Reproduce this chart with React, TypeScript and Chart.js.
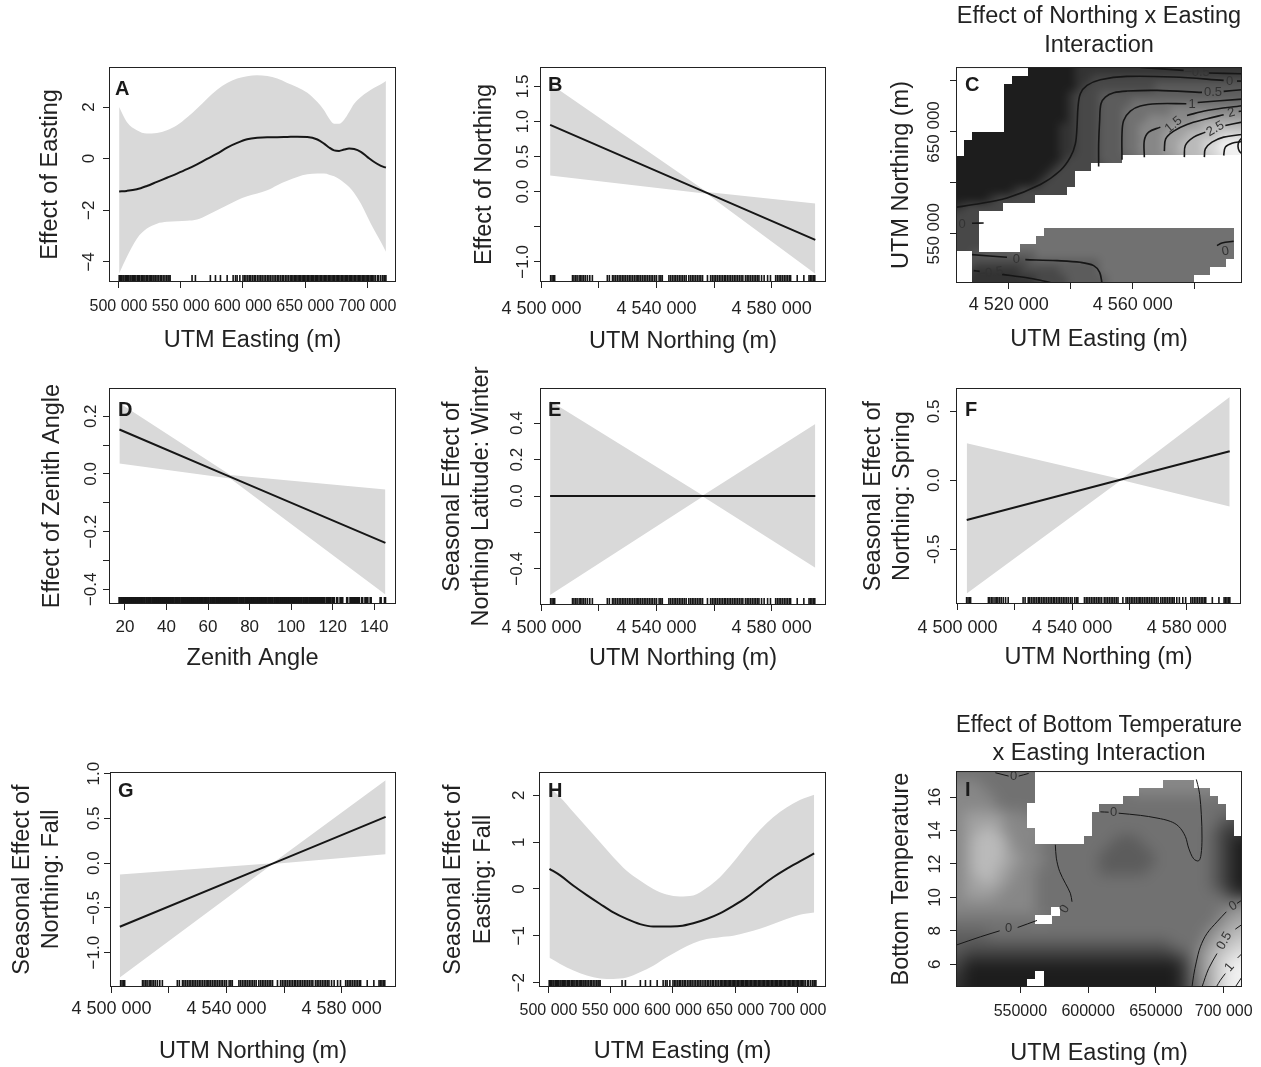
import React, { useEffect, useRef } from "react";
import { Chart, registerables } from "chart.js";

Chart.register(...registerables);

const FONT = "'Liberation Sans', Arial, Helvetica, sans-serif";
const INK = "#222222";
const LINE = "#161616";
const BAND = "#d9d9d9";
const HEAT_PALETTE = ["#1d1d1d", "#333333", "#484848", "#5c5c5c", "#717171", "#878787", "#a0a0a0", "#bababa", "#d6d6d6", "#f0f0f0"];

// ---------------- tick values / labels ----------------
const EASTING_TICKS = [500000, 550000, 600000, 650000, 700000];
const EASTING_TICK_LABELS = ["500 000", "550 000", "600 000", "650 000", "700 000"];
const NORTHING_TICKS = [4500000, 4520000, 4540000, 4560000, 4580000];
const NORTHING_TICK_LABELS = ["4 500 000", "", "4 540 000", "", "4 580 000"];
const ZENITH_TICKS = [20, 40, 60, 80, 100, 120, 140];
const ZENITH_TICK_LABELS = ["20", "40", "60", "80", "100", "120", "140"];
const C_X_TICKS = [4520000, 4540000, 4560000, 4580000];
const C_X_TICK_LABELS = ["4 520 000", "", "4 560 000", ""];
const C_Y_TICKS = [550000, 600000, 650000, 700000];
const C_Y_TICK_LABELS = ["550 000", "", "650 000", ""];
const I_X_TICKS = [550000, 600000, 650000, 700000];
const I_X_TICK_LABELS = ["550000", "600000", "650000", "700 000"];
const I_Y_TICKS = [6, 8, 10, 12, 14, 16];
const I_Y_TICK_LABELS = ["6", "8", "10", "12", "14", "16"];
const A_Y_TICKS = [-4, -2, 0, 2];
const A_Y_TICK_LABELS = ["\u22124", "\u22122", "0", "2"];
const B_Y_TICKS = [-1, -0.5, 0, 0.5, 1, 1.5];
const B_Y_TICK_LABELS = ["\u22121.0", "", "0.0", "0.5", "1.0", "1.5"];
const D_Y_TICKS = [-0.4, -0.3, -0.2, -0.1, 0, 0.1, 0.2];
const D_Y_TICK_LABELS = ["\u22120.4", "", "\u22120.2", "", "0.0", "", "0.2"];
const E_Y_TICKS = [-0.4, -0.2, 0, 0.2, 0.4];
const E_Y_TICK_LABELS = ["\u22120.4", "", "0.0", "0.2", "0.4"];
const F_Y_TICKS = [-0.5, 0, 0.5];
const F_Y_TICK_LABELS = ["-0.5", "0.0", "0.5"];
const G_Y_TICKS = [-1, -0.5, 0, 0.5, 1];
const G_Y_TICK_LABELS = ["\u22121.0", "\u22120.5", "0.0", "0.5", "1.0"];
const H_Y_TICKS = [-2, -1, 0, 1, 2];
const H_Y_TICK_LABELS = ["\u22122", "\u22121", "0", "1", "2"];

// ---------------- rug values ----------------
const EASTING_RUG_KM = [
  500.6, 501.7, 502.5, 503.6, 504.4, 505.5, 506.3, 507.4, 508.2, 509.3, 510.1, 511.2, 512.0, 513.1, 514.0, 515.2,
  516.0, 517.1, 518.3, 519.2, 520.4, 521.3, 522.5, 523.4, 524.6, 525.5, 526.7, 527.8, 528.6, 529.9, 531.0, 532.2,
  533.5, 534.6, 535.9, 537.3, 538.6, 539.8, 540.6, 541.5,
  559.1, 561.8, 573.8, 577.9, 581.9, 587.3, 592.1, 594.0, 595.3, 597.5,
  600.0, 601.3, 602.4, 603.9, 605.2, 606.3, 607.7, 609.0, 610.1, 611.6, 612.9, 614.2, 615.4, 616.9, 618.1, 619.5,
  620.8, 622.0, 623.4, 624.9, 626.1, 627.5, 628.8, 630.2, 631.5, 632.6, 634.0, 635.3, 636.5, 637.9, 639.0, 640.1,
  641.2, 642.2, 643.3, 644.3, 645.4, 646.4, 647.5, 648.5, 649.6, 650.6, 651.7, 652.7, 653.8, 654.8, 655.9, 656.9,
  658.0, 659.0, 660.1, 661.1, 662.2, 663.2, 664.3, 665.3, 666.4, 667.4, 668.5, 669.5, 670.6, 671.6, 672.7, 673.7,
  674.8, 675.8, 676.9, 677.9, 679.0, 680.0, 681.1, 682.1, 683.2, 684.2, 685.3, 686.3, 687.4, 688.4, 689.5, 690.5,
  691.6, 692.6, 693.7, 694.7, 695.8, 696.8, 697.9, 698.9, 700.0, 701.0, 702.1, 703.1, 704.2, 705.2, 706.4, 708.1,
  709.0, 710.7, 712.3, 713.4, 714.0, 714.8,
];
const NORTHING_RUG_KM = [
  4503.2, 4503.7, 4504.2, 4504.6, 4510.8, 4511.3, 4511.9, 4512.4, 4513.1, 4513.6, 4514.1, 4514.7, 4515.3, 4516.0,
  4516.8, 4517.7, 4522.9, 4523.6, 4524.7, 4525.2, 4525.8, 4526.4, 4527.0, 4527.6, 4528.2, 4528.7, 4529.3, 4529.9,
  4530.5, 4531.1, 4531.7, 4532.3, 4532.9, 4533.5, 4533.9, 4534.5, 4535.1, 4535.7, 4536.3, 4536.9, 4537.5, 4538.1,
  4538.7, 4539.4, 4540.0, 4540.9, 4541.5, 4542.0, 4544.3, 4544.9, 4545.5, 4546.1, 4546.7, 4547.3, 4547.9, 4548.5,
  4549.1, 4549.7, 4550.3, 4551.2, 4551.8, 4552.4, 4553.0, 4553.6, 4554.2, 4554.8, 4555.4, 4556.0, 4557.7, 4558.8,
  4559.4, 4560.0, 4560.6, 4561.2, 4561.8, 4562.4, 4563.0, 4563.6, 4564.0, 4564.6, 4565.2, 4565.8, 4566.4, 4567.0,
  4567.6, 4568.2, 4568.8, 4569.4, 4570.0, 4570.9, 4571.5, 4572.1, 4572.7, 4573.3, 4573.9, 4574.5, 4575.1, 4575.6,
  4576.5, 4577.4, 4578.6, 4579.6, 4581.4, 4582.0, 4582.6, 4583.2, 4583.8, 4584.4, 4585.0, 4585.6, 4586.2, 4586.6,
  4588.9, 4591.2, 4593.0, 4593.5, 4594.0, 4594.5, 4595.0,
];
const ZENITH_RUG = [
  17.4, 18.3, 19.2, 20.1, 21.0, 22.0, 22.9, 23.8, 24.8, 25.7, 26.6, 27.6, 28.5, 29.4, 30.4, 31.3, 32.2, 33.2, 34.1,
  35.0, 36.0, 36.9, 37.8, 38.8, 39.7, 40.6, 41.6, 42.5, 43.4, 44.4, 45.3, 46.2, 47.2, 48.1, 49.0, 50.0, 50.9, 51.8,
  52.8, 53.7, 54.6, 55.6, 56.5, 57.4, 58.4, 59.3, 60.2, 61.2, 62.1, 63.0, 64.0, 64.9, 65.8, 66.8, 67.7, 68.6, 69.6,
  70.5, 71.4, 72.4, 73.3, 74.2, 75.2, 76.1, 77.0, 78.0, 78.9, 79.8, 80.8, 81.7, 82.6, 83.6, 84.5, 85.4, 86.4, 87.3,
  88.2, 89.2, 90.1, 91.0, 92.0, 92.9, 93.8, 94.8, 95.7, 96.6, 97.6, 98.5, 99.4, 100.4, 101.3, 102.2, 103.2, 104.1,
  105.0, 106.0, 106.9, 107.8, 108.8, 109.7, 110.6, 111.6, 112.5, 113.4, 114.4, 115.3, 115.9, 117.1, 118.0, 118.8,
  119.9, 120.6, 122.2, 123.8, 124.6, 127.0, 128.6, 129.4, 130.2, 131.0, 131.8, 132.6, 134.2, 135.8, 136.7, 138.3,
  143.1, 145.2,
];
const EASTING_RUG = EASTING_RUG_KM.map((v) => v * 1000);
const NORTHING_RUG = NORTHING_RUG_KM.map((v) => v * 1000);

// ---------------- smooth effects (fit and confidence band) ----------------
const A_X = [500540, 506710, 514770, 522820, 530880, 538930, 546990, 555040, 563100, 571150, 579210, 587260, 595320, 603370, 611430, 619480, 627540, 635590, 643650, 651700, 659760, 665130, 669160, 673180, 677210, 681240, 685270, 689290, 694660, 700030, 705400, 710780, 714800];
const A_FIT = [-1.27, -1.25, -1.19, -1.06, -0.9, -0.74, -0.58, -0.41, -0.22, -0.01, 0.19, 0.43, 0.61, 0.75, 0.81, 0.83, 0.83, 0.84, 0.85, 0.84, 0.74, 0.58, 0.43, 0.32, 0.3, 0.35, 0.39, 0.37, 0.26, 0.06, -0.13, -0.28, -0.35];
const A_UPPER = [2.0, 1.42, 1.1, 0.97, 0.99, 1.1, 1.29, 1.59, 1.94, 2.32, 2.67, 2.93, 3.1, 3.19, 3.23, 3.2, 3.1, 2.93, 2.77, 2.55, 2.19, 1.87, 1.55, 1.35, 1.35, 1.51, 1.81, 2.13, 2.39, 2.58, 2.75, 2.88, 3.01];
const A_LOWER = [-4.45, -3.81, -3.1, -2.71, -2.52, -2.45, -2.43, -2.41, -2.36, -2.19, -2.0, -1.81, -1.61, -1.46, -1.35, -1.23, -1.03, -0.86, -0.71, -0.61, -0.58, -0.58, -0.62, -0.68, -0.79, -0.93, -1.1, -1.33, -1.74, -2.26, -2.77, -3.23, -3.61];

const B_X = [4503010, 4557500, 4595180];
const B_FIT = [0.952, -0.016, -0.686];
const B_UPPER = [1.538, -0.005, -0.167];
const B_LOWER = [0.229, -0.03, -1.167];

const D_X = [17.3, 70.7, 145.4];
const D_FIT = [0.154, -0.01, -0.239];
const D_UPPER = [0.246, -0.004, -0.054];
const D_LOWER = [0.036, -0.016, -0.418];

const E_X = [4503010, 4556100, 4595180];
const E_FIT = [0, 0, 0];
const E_UPPER = [0.521, 0.003, 0.396];
const E_LOWER = [-0.543, -0.003, -0.393];

const F_X = [4503240, 4557140, 4594960];
const F_FIT = [-0.288, 0.005, 0.211];
const F_UPPER = [0.269, 0.008, 0.603];
const F_LOWER = [-0.821, 0.002, -0.191];

const G_X = [4502900, 4556000, 4595300];
const G_FIT = [-0.711, -0.005, 0.518];
const G_UPPER = [-0.127, 0.0, 0.927];
const G_LOWER = [-1.278, -0.01, 0.1];

const H_X = [500800, 509400, 520100, 530800, 541500, 552100, 562800, 573500, 584200, 594900, 605600, 616300, 627000, 637700, 648400, 659100, 669800, 680500, 691200, 701900, 713400];
const H_FIT = [0.43, 0.29, 0.07, -0.13, -0.32, -0.5, -0.64, -0.75, -0.8, -0.8, -0.79, -0.73, -0.64, -0.52, -0.36, -0.18, 0.04, 0.25, 0.43, 0.59, 0.76];
const H_UPPER = [2.17, 1.96, 1.64, 1.32, 1.0, 0.68, 0.39, 0.18, 0.0, -0.12, -0.16, -0.14, 0.02, 0.25, 0.57, 0.93, 1.26, 1.53, 1.74, 1.9, 2.01];
const H_LOWER = [-1.47, -1.6, -1.74, -1.85, -1.91, -1.92, -1.89, -1.78, -1.64, -1.46, -1.3, -1.16, -1.07, -1.03, -1.0, -0.93, -0.85, -0.75, -0.64, -0.55, -0.5];

// ---------------- heat maps: shade level per cell (0 dark .. 9 light, "." = no data) ----------------
const C_HEAT_ROWS = [
  "........." + "000000" + "1111111111" + "1111111111" + "1",
  "......." + "00000000" + "11" + "2222222222" + "222222222",
  "......" + "000000000" + "1" + "222222222" + "3333333333" + "3",
  "......" + "00000000" + "1" + "222" + "3333333333" + "33333333",
  "......" + "00000000" + "1" + "222" + "3333" + "4444444444" + "4444",
  "......" + "00000000" + "1" + "222" + "333" + "444444" + "555555555",
  "......" + "00000000" + "1" + "222" + "333" + "444" + "555555" + "666666",
  "......" + "0000000" + "11" + "222" + "333" + "44" + "5555" + "6666" + "77777",
  ".." + "00000000000" + "11" + "222" + "333" + "44" + "555" + "666" + "7777" + "888",
  "." + "000000000000" + "11" + "222" + "333" + "44" + "555" + "66" + "777" + "88" + "999",
  "." + "000000000000" + "11" + "222" + "333" + "44" + "555" + "66" + "777" + "88" + "999",
  "0000000000000" + "1" + "2222" + "333" + ".........." + ".....",
  "000000000000" + "1" + "2222" + ".........." + ".........",
  "00000000000" + "1" + "222" + ".........." + ".........." + ".",
  "0000000000" + "1" + "2222" + ".........." + ".........." + ".",
  "0000000" + "1" + "222222" + ".........." + ".........." + "..",
  "0000" + "1" + "22222" + ".........." + ".........." + "......",
  "1" + "22222" + ".........." + ".........." + "..........",
  "222" + ".........." + ".........." + ".........." + "...",
  "222" + ".........." + ".........." + ".........." + "...",
  "222" + "........" + "4444444444" + "4444444444" + "4444" + ".",
  "222" + "......." + "4444444444" + "4444444444" + "44444" + ".",
  "222" + "....." + "4444444444" + "4444444444" + "4444444" + ".",
  ".." + "33333333" + "4444444444" + "4444444444" + "44444" + ".",
  ".." + "2222222" + "333333333" + "4444444444" + "444444" + "..",
  ".." + "111111" + "22222" + "33333" + "4444444444" + "4444" + "....",
  ".." + "11111111" + "2222" + "33333" + "4444444444" + "4" + "......",
];

const I_HEAT_ROWS = [
  "4444444444" + ".........." + ".........." + "......",
  "555" + "4444444" + ".........." + "......" + "5555" + "......",
  "5555" + "444444" + ".........." + "..." + "555555555" + "....",
  "55555" + "44444" + ".........." + "." + "4444444444" + "44" + "...",
  "55555" + "4444" + "........." + "4444444444" + "444444" + "..",
  "566666555" + "........" + "4444444444" + "444444" + "3" + "..",
  "566666555" + "........" + "4444444444" + "444444" + "3" + "2" + ".",
  "5667765555" + "......." + "4444444444" + "44444" + "3" + "2" + "1" + ".",
  "5677776555" + "......" + "4444" + "333" + "444444444" + "3210",
  "5677776555" + "444444444" + "33333" + "44444444" + "3210",
  "56777766555" + "4444444" + "3333333" + "4444444" + "3210",
  "56777766555" + "4444444" + "3333333" + "4444444" + "3210",
  "5677766555" + "44444444" + "333333" + "44444444" + "3210",
  "5667766555" + "4444444444" + "4444444444" + "44" + "3210",
  "5666665555" + "4444444444" + "4444444444" + "44" + "3210",
  "5666655555" + "4444444444" + "4444444444" + "44" + "44" + "2" + "1",
  "5555555555" + "4444444444" + "4444444444" + "4444" + "4" + "5",
  "5555555555" + "44" + "." + "4444444444" + "4444444444" + "55" + "6",
  "4444444444" + ".." + "4444444444" + "4444444444" + "4" + "5" + "66",
  "4444444444" + "4444444444" + "4444444444" + "4" + "4" + "5" + "66" + "7",
  "3333" + "4444444444" + "4444444444" + "4444444" + "5" + "66" + "77",
  "3333333333" + "3333333333" + "3333333" + "444" + "4" + "5" + "6" + "77" + "8",
  "3" + "2222222222" + "2222222222" + "222222" + "33" + "4" + "5" + "6" + "77" + "88",
  "2" + "1111111111" + "1111111111" + "1111111" + "2" + "3" + "5" + "6" + "7" + "88" + "9",
  "2" + "0000000000" + "0000000000" + "0000000" + "1" + "3" + "5" + "6" + "7" + "8" + "99",
  "1" + "000000000" + "." + "0000000000" + "0000000" + "1" + "3" + "5" + "6" + "7" + "8" + "99",
  "1" + "00000000" + ".." + "0000000000" + "0000000" + "1" + "3" + "4" + "6" + "7" + "8" + "99",
];

// ---------------- contour lines (segments of [x, y]) ----------------
type Pair = [number, number];
type Seg = Pair[];

const C_CONTOURS: Seg[] = [
  [[4503010, 576020], [4508710, 578640], [4519460, 585200], [4530220, 598310], [4536670, 612080], [4539900, 625190], [4541510, 638310], [4542040, 654700], [4542370, 674360], [4543120, 687480], [4545270, 695670], [4549570, 701240], [4558170, 704520], [4573220, 703870], [4589350, 700590]],
  [[4593650, 699930], [4595270, 699930]],
  [[4562470, 713370], [4576440, 710420]],
  [[4584500, 707800], [4595270, 707140]],
  [[4549030, 616020], [4549030, 638310], [4549350, 661250], [4549780, 677640], [4551180, 684200], [4553870, 688460], [4558170, 690100], [4567850, 690750], [4582370, 688790]],
  [[4589360, 689770], [4595270, 691410]],
  [[4556560, 622570], [4556560, 648140], [4557100, 661250], [4559250, 670430], [4562470, 675350], [4567850, 677640], [4577310, 677640]],
  [[4580970, 678950], [4595270, 682230]],
  [[4563764, 625194], [4563764, 641584], [4565160, 649779], [4568926, 654696]],
  [[4577528, 666169], [4583980, 671086], [4595270, 675675]],
  [[4570216, 631094], [4570646, 643223], [4573227, 650762], [4577528, 657318], [4583980, 662891], [4589357, 666825]],
  [[4594195, 670103], [4595270, 670430]],
  [[4576668, 625194], [4576991, 636667], [4579679, 644862], [4583442, 649779]],
  [[4589894, 656335], [4595270, 659613]],
  [[4583120, 625194], [4583442, 633389], [4585593, 639945], [4589357, 644862], [4595270, 647484]],
  [[4589357, 626833], [4589894, 635028], [4592045, 638958], [4595270, 640601]],
  [[4595270, 644206], [4594303, 640600], [4593980, 635684], [4594410, 631094], [4595270, 628472]],
  [[4508171, 529476], [4519462, 526854]],
  [[4525376, 524559], [4535592, 523576], [4543119, 521937], [4547420, 518659], [4549355, 512103], [4550108, 501614]],
  [[4508710, 513742], [4510645, 513086]],
  [[4517849, 510136], [4525914, 506858], [4531290, 503580], [4533979, 501614]],
  [[4508171, 560290], [4511935, 560620]],
  [[4587206, 538327], [4588819, 540951], [4592583, 542588]],
];

const C_CONTOUR_LABELS = [
  { x: 4580754, y: 708455, t: "\u22120.5", r: 0 },
  { x: 4591292, y: 699277, t: "0", r: 0 },
  { x: 4585917, y: 688459, t: "0.5", r: 0 },
  { x: 4579141, y: 676659, t: "1", r: 0 },
  { x: 4573227, y: 656991, t: "1.5", r: -40 },
  { x: 4591830, y: 668791, t: "2", r: -15 },
  { x: 4586670, y: 653057, t: "2.5", r: -30 },
  { x: 4504945, y: 559634, t: "0", r: 0 },
  { x: 4522473, y: 525215, t: "0", r: 0 },
  { x: 4514086, y: 511447, t: "\u22120.5", r: -8 },
  { x: 4589894, y: 532754, t: "0", r: -10 },
];

const I_CONTOURS: Seg[] = [
  [[502540, 7.14], [520490, 7.64], [534750, 8.0]],
  [[548030, 8.2], [562290, 8.62]],
  [[575820, 13.15], [576560, 12.35], [579020, 11.55], [583200, 10.85], [586890, 10.25], [588120, 9.74]],
  [[531556, 17.46], [541392, 17.26]],
  [[548769, 17.26], [556146, 17.42]],
  [[609015, 15.12], [615162, 15.1]],
  [[622539, 15.04], [638523, 14.91], [650818, 14.75], [660654, 14.55], [666801, 14.25], [671719, 13.65], [674178, 12.95], [677867, 12.31], [681555, 12.19], [683277, 12.55], [684014, 13.55], [683522, 14.95], [682293, 16.16], [680818, 16.76], [679834, 17.06]],
  [[713520, 9.84], [709830, 9.64]],
  [[701965, 9.14], [695075, 8.54], [687698, 7.84], [682780, 7.04], [679829, 6.14], [677862, 5.34], [676632, 4.64]],
  [[713520, 8.38], [708604, 8.1]],
  [[695075, 6.64], [688927, 5.74], [684010, 4.64]],
  [[713520, 6.64], [710326, 6.38]],
  [[701227, 5.44], [697539, 5.04], [694588, 4.64]],
  [[713520, 5.24], [708604, 4.64]],
];

const I_CONTOUR_LABELS = [
  { x: 545081, y: 17.26, t: "0", r: 0 },
  { x: 541392, y: 8.14, t: "0", r: 0 },
  { x: 582703, y: 9.3, t: "0", r: -60 },
  { x: 618848, y: 15.06, t: "0", r: 0 },
  { x: 706883, y: 9.48, t: "0", r: -30 },
  { x: 700490, y: 7.4, t: "0.5", r: -60 },
  { x: 704424, y: 5.82, t: "1", r: -50 },
];

// ---------------- panel specs ----------------
interface AxisSpec {
  min: number; max: number; ticks: number[]; labels: string[];
  font?: string; size?: number; pad: number; title: string | string[]; titlePad: number;
}
interface PanelSpec {
  id: string; letter: string; letterAt: [number, number]; box: [number, number, number, number];
  x: AxisSpec; y: AxisSpec; title?: string[]; titlePad?: [number, number];
  curve?: { xs: number[]; fit: number[]; upper: number[]; lower: number[]; smooth: boolean };
  rug?: number[]; rugWidth?: number;
  heat?: { rows: string[]; x0: number; x1: number; y0: number; y1: number; blur: number };
  contours?: Seg[]; contourWidth?: number;
  contourLabels?: { x: number; y: number; t: string; r: number }[];
}

const NRANGE: [number, number] = [4499500, 4598900];
const ERANGE: [number, number] = [492400, 722900];

const PANELS: PanelSpec[] = [
  {
    id: "A", letter: "A", letterAt: [6, 28], box: [109, 67, 396, 282],
    x: { min: ERANGE[0], max: ERANGE[1], ticks: EASTING_TICKS, labels: EASTING_TICK_LABELS, size: 16, pad: 9.4, title: "UTM Easting (m)", titlePad: 7.75 },
    y: { min: -4.78, max: 3.55, ticks: A_Y_TICKS, labels: A_Y_TICK_LABELS, pad: 4.3, title: "Effect of Easting", titlePad: 35.4 },
    curve: { xs: A_X, fit: A_FIT, upper: A_UPPER, lower: A_LOWER, smooth: true },
    rug: EASTING_RUG, rugWidth: 1.6,
  },
  {
    id: "B", letter: "B", letterAt: [8, 24], box: [540, 67, 826, 282],
    x: { min: NRANGE[0], max: NRANGE[1], ticks: NORTHING_TICKS, labels: NORTHING_TICK_LABELS, pad: 10, title: "UTM Northing (m)", titlePad: 6.95 },
    y: { min: -1.286, max: 1.776, ticks: B_Y_TICKS, labels: B_Y_TICK_LABELS, pad: -6.3, title: "Effect of Northing", titlePad: 38.4 },
    curve: { xs: B_X, fit: B_FIT, upper: B_UPPER, lower: B_LOWER, smooth: false },
    rug: NORTHING_RUG, rugWidth: 1.6,
  },
  {
    id: "C", letter: "C", letterAt: [9, 24], box: [956, 67, 1242, 283],
    title: ["Effect of Northing x Easting", "Interaction"], titlePad: [1.4, 7.3],
    x: { min: 4503010, max: 4595270, ticks: C_X_TICKS, labels: C_X_TICK_LABELS, pad: 5.5, title: "UTM Easting (m)", titlePad: 9.95 },
    y: { min: 501630, max: 713700, ticks: C_Y_TICKS, labels: C_Y_TICK_LABELS, pad: -15, title: "UTM Northing (m)", titlePad: 39.4 },
    heat: { rows: C_HEAT_ROWS, x0: 4503010, x1: 4595270, y0: 501630, y1: 713700, blur: 3.5 },
    contours: C_CONTOURS, contourWidth: 1.6, contourLabels: C_CONTOUR_LABELS,
  },
  {
    id: "D", letter: "D", letterAt: [9, 28], box: [109, 388, 396, 604],
    x: { min: 12.3, max: 150.5, ticks: ZENITH_TICKS, labels: ZENITH_TICK_LABELS, size: 17, pad: 6.7, title: "Zenith Angle", titlePad: 11.25 },
    y: { min: -0.451, max: 0.298, ticks: D_Y_TICKS, labels: D_Y_TICK_LABELS, pad: -4.8, title: "Effect of Zenith Angle", titlePad: 36.9 },
    curve: { xs: D_X, fit: D_FIT, upper: D_UPPER, lower: D_LOWER, smooth: false },
    rug: ZENITH_RUG, rugWidth: 2.6,
  },
  {
    id: "E", letter: "E", letterAt: [8, 28], box: [540, 388, 826, 605],
    x: { min: NRANGE[0], max: NRANGE[1], ticks: NORTHING_TICKS, labels: NORTHING_TICK_LABELS, pad: 6.2, title: "UTM Northing (m)", titlePad: 12.25 },
    y: { min: -0.598, max: 0.593, ticks: E_Y_TICKS, labels: E_Y_TICK_LABELS, pad: -0.3, title: ["Seasonal Effect of", "Northing Latitude: Winter"], titlePad: 5.9 },
    curve: { xs: E_X, fit: E_FIT, upper: E_UPPER, lower: E_LOWER, smooth: false },
    rug: NORTHING_RUG, rugWidth: 1.6,
  },
  {
    id: "F", letter: "F", letterAt: [9, 28], box: [956, 388, 1241, 604],
    x: { min: NRANGE[0], max: NRANGE[1], ticks: NORTHING_TICKS, labels: NORTHING_TICK_LABELS, pad: 7.7, title: "UTM Northing (m)", titlePad: 12.75 },
    y: { min: -0.897, max: 0.669, ticks: F_Y_TICKS, labels: F_Y_TICK_LABELS, pad: 1.1, title: ["Seasonal Effect of", "Northing: Spring"], titlePad: 10.7 },
    curve: { xs: F_X, fit: F_FIT, upper: F_UPPER, lower: F_LOWER, smooth: false },
    rug: NORTHING_RUG, rugWidth: 1.6,
  },
  {
    id: "G", letter: "G", letterAt: [8, 25], box: [110, 772, 396, 987],
    x: { min: NRANGE[0], max: NRANGE[1], ticks: NORTHING_TICKS, labels: NORTHING_TICK_LABELS, pad: 4.8, title: "UTM Northing (m)", titlePad: 1.95 },
    y: { min: -1.384, max: 1.019, ticks: G_Y_TICKS, labels: G_Y_TICK_LABELS, pad: -6.8, title: ["Seasonal Effect of", "Northing: Fall"], titlePad: 5.9 },
    curve: { xs: G_X, fit: G_FIT, upper: G_UPPER, lower: G_LOWER, smooth: false },
    rug: NORTHING_RUG, rugWidth: 1.6,
  },
  {
    id: "H", letter: "H", letterAt: [9, 25], box: [539, 772, 826, 987],
    x: { min: ERANGE[0], max: ERANGE[1], ticks: EASTING_TICKS, labels: EASTING_TICK_LABELS, size: 16, pad: 7.7, title: "UTM Easting (m)", titlePad: 1.95 },
    y: { min: -2.093, max: 2.498, ticks: H_Y_TICKS, labels: H_Y_TICK_LABELS, pad: 3.6, title: ["Seasonal Effect of", "Easting: Fall"], titlePad: 8.4 },
    curve: { xs: H_X, fit: H_FIT, upper: H_UPPER, lower: H_LOWER, smooth: true },
    rug: EASTING_RUG, rugWidth: 1.6,
  },
  {
    id: "I", letter: "I", letterAt: [9, 25], box: [956, 771, 1242, 987],
    title: ["Effect of Bottom Temperature", "x Easting Interaction"], titlePad: [5.7, 3.0],
    x: { min: 502540, max: 713520, ticks: I_X_TICKS, labels: I_X_TICK_LABELS, size: 16, pad: 8.7, title: "UTM Easting (m)", titlePad: 0 },
    y: { min: 4.637, max: 17.563, ticks: I_Y_TICKS, labels: I_Y_TICK_LABELS, pad: 5.5, title: "Bottom Temperature", titlePad: 39.4 },
    heat: { rows: I_HEAT_ROWS, x0: 502540, x1: 713520, y0: 4.637, y1: 17.563, blur: 7 },
    contours: I_CONTOURS, contourWidth: 1, contourLabels: I_CONTOUR_LABELS,
  },
];

// ---------------- helpers ----------------
const NCOLS = 36;
const BORDER = 2;
function normRow(r: string): string {
  if (r.length >= NCOLS) return r.slice(0, NCOLS);
  return r + r.charAt(r.length - 1).repeat(NCOLS - r.length);
}

// Shaded image with replicated border cells on each side (so a blur has no fade at the edges).
function buildHeat(rows: string[]) {
  const grid = rows.map((r) => normRow(r).split(""));
  const nr = grid.length;
  const cvs = document.createElement("canvas");
  cvs.width = NCOLS + 2 * BORDER;
  cvs.height = nr + 2 * BORDER;
  const g = cvs.getContext("2d")!;
  const nearest = (r: number, c: number): string => {
    for (let d = 1; d < Math.max(nr, NCOLS); d++) {
      for (let dr = -d; dr <= d; dr++) {
        for (let dc = -d; dc <= d; dc++) {
          if (Math.max(Math.abs(dr), Math.abs(dc)) !== d) continue;
          const rr = r + dr, cc = c + dc;
          if (rr < 0 || rr >= nr || cc < 0 || cc >= NCOLS) continue;
          if (grid[rr][cc] !== ".") return grid[rr][cc];
        }
      }
    }
    return "4";
  };
  const filled: string[][] = grid.map((row, r) => row.map((ch, c) => (ch === "." ? nearest(r, c) : ch)));
  for (let r = -BORDER; r < nr + BORDER; r++) {
    for (let c = -BORDER; c < NCOLS + BORDER; c++) {
      const rr = Math.min(nr - 1, Math.max(0, r));
      const cc = Math.min(NCOLS - 1, Math.max(0, c));
      const ch = filled[rr][cc];
      g.fillStyle = HEAT_PALETTE[parseInt(ch, 10)] || HEAT_PALETTE[4];
      g.fillRect(c + BORDER, r + BORDER, 1, 1);
    }
  }
  return { img: cvs, grid };
}

function makeDeco(p: PanelSpec) {
  const heat = p.heat ? buildHeat(p.heat.rows) : null;
  return {
    id: "deco" + p.id,
    beforeDatasetsDraw(chart: any) {
      if (!p.heat || !heat) return;
      const { ctx, chartArea: a } = chart;
      const xs = chart.scales.x;
      const ys = chart.scales.y;
      const h = p.heat;
      const nr = heat.grid.length;
      const px0 = xs.getPixelForValue(h.x0);
      const px1 = xs.getPixelForValue(h.x1);
      const pyT = ys.getPixelForValue(h.y1);
      const pyB = ys.getPixelForValue(h.y0);
      const cw = (px1 - px0) / NCOLS;
      const chh = (pyB - pyT) / nr;
      ctx.save();
      ctx.beginPath();
      ctx.rect(a.left, a.top, a.right - a.left, a.bottom - a.top);
      ctx.clip();
      ctx.imageSmoothingEnabled = true;
      ctx.imageSmoothingQuality = "high";
      ctx.filter = `blur(${h.blur}px)`;
      ctx.drawImage(heat.img, px0 - BORDER * cw, pyT - BORDER * chh, px1 - px0 + 2 * BORDER * cw, pyB - pyT + 2 * BORDER * chh);
      ctx.filter = "none";
      ctx.fillStyle = "#ffffff";
      for (let r = 0; r < nr; r++) {
        for (let c = 0; c < NCOLS; c++) {
          if (heat.grid[r][c] !== ".") continue;
          const vx0 = h.x0 + ((h.x1 - h.x0) * c) / NCOLS;
          const vx1 = h.x0 + ((h.x1 - h.x0) * (c + 1)) / NCOLS;
          const vyT = h.y1 - ((h.y1 - h.y0) * r) / nr;
          const vyB = h.y1 - ((h.y1 - h.y0) * (r + 1)) / nr;
          const X0 = Math.floor(xs.getPixelForValue(vx0));
          const X1 = Math.ceil(xs.getPixelForValue(vx1));
          const Y0 = Math.floor(ys.getPixelForValue(vyT));
          const Y1 = Math.ceil(ys.getPixelForValue(vyB));
          ctx.fillRect(X0, Y0, X1 - X0, Y1 - Y0);
        }
      }
      ctx.restore();
    },
    afterDatasetsDraw(chart: any) {
      if (!p.contourLabels) return;
      const { ctx, chartArea: a } = chart;
      const xs = chart.scales.x;
      const ys = chart.scales.y;
      ctx.save();
      ctx.beginPath();
      ctx.rect(a.left, a.top, a.right - a.left, a.bottom - a.top);
      ctx.clip();
      ctx.font = `13px ${FONT}`;
      ctx.fillStyle = "#333333";
      ctx.textAlign = "center";
      ctx.textBaseline = "middle";
      for (const L of p.contourLabels) {
        ctx.save();
        ctx.translate(xs.getPixelForValue(L.x), ys.getPixelForValue(L.y));
        ctx.rotate(((L.r || 0) * Math.PI) / 180);
        ctx.fillText(L.t, 0, 0);
        ctx.restore();
      }
      ctx.restore();
    },
    afterDraw(chart: any) {
      const { ctx, chartArea: a } = chart;
      ctx.save();
      ctx.strokeStyle = INK;
      ctx.lineWidth = 1;
      ctx.strokeRect(a.left + 0.5, a.top + 0.5, a.right - a.left - 1, a.bottom - a.top - 1);
      ctx.font = `bold 20px ${FONT}`;
      ctx.fillStyle = "#1a1a1a";
      ctx.textAlign = "left";
      ctx.textBaseline = "alphabetic";
      ctx.fillText(p.letter, a.left + p.letterAt[0], a.top + p.letterAt[1]);
      ctx.restore();
    },
  };
}

function axisOptions(a: AxisSpec, isX: boolean) {
  return {
    type: "linear",
    position: isX ? "bottom" : "left",
    min: a.min,
    max: a.max,
    afterBuildTicks: (s: any) => {
      s.ticks = a.ticks.map((v) => ({ value: v }));
    },
    afterFit: (s: any) => {
      if (isX) s.height = 78;
      else s.width = 108;
      s.paddingLeft = 0;
      s.paddingRight = 0;
      s.paddingTop = 0;
      s.paddingBottom = 0;
    },
    ticks: {
      autoSkip: false,
      minRotation: isX ? 0 : 90,
      maxRotation: isX ? 0 : 90,
      crossAlign: isX ? "near" : "center",
      padding: a.pad,
      color: INK,
      font: { family: a.font || FONT, size: a.size || (isX ? 18 : 17) },
      callback: (_v: any, i: number) => (a.labels[i] !== undefined ? a.labels[i] : ""),
    },
    grid: { display: true, drawOnChartArea: false, drawTicks: true, tickLength: 6, color: INK, lineWidth: 1 },
    border: { display: false },
    title: {
      display: true,
      text: a.title,
      color: INK,
      font: { family: FONT, size: 23.5, lineHeight: isX ? 1.0 : 1.24 },
      padding: isX ? { top: 0, bottom: a.titlePad } : { top: a.titlePad, bottom: 0 },
    },
  };
}

function buildConfig(p: PanelSpec): any {
  const datasets: any[] = [];
  if (p.curve) {
    const cv = p.curve;
    const smooth = cv.smooth ? { cubicInterpolationMode: "monotone" } : { tension: 0 };
    datasets.push({
      data: cv.xs.map((x, i) => ({ x, y: cv.fit[i] })),
      borderColor: LINE, borderWidth: 2, pointRadius: 0, fill: false, ...smooth,
    });
    if (p.rug) {
      datasets.push({
        data: p.rug.map((v) => ({ x: v, y: p.y.min })),
        showLine: false, pointStyle: "line", pointRotation: 90, pointRadius: 7,
        pointBorderWidth: p.rugWidth || 1, pointBorderColor: LINE, pointBackgroundColor: LINE, clip: 0,
      });
    }
    const idx = datasets.length;
    datasets.push({
      data: cv.xs.map((x, i) => ({ x, y: cv.upper[i] })),
      borderWidth: 0, borderColor: "rgba(0,0,0,0)", backgroundColor: BAND, pointRadius: 0, fill: idx + 1, ...smooth,
    });
    datasets.push({
      data: cv.xs.map((x, i) => ({ x, y: cv.lower[i] })),
      borderWidth: 0, borderColor: "rgba(0,0,0,0)", backgroundColor: BAND, pointRadius: 0, fill: false, ...smooth,
    });
  }
  if (p.contours) {
    for (const seg of p.contours) {
      datasets.push({
        data: seg.map(([x, y]) => ({ x, y })),
        borderColor: LINE, borderWidth: p.contourWidth || 1, pointRadius: 0, fill: false, tension: 0.35,
      });
    }
  }
  return {
    type: "line",
    data: { datasets },
    options: {
      responsive: false,
      maintainAspectRatio: false,
      animation: false,
      events: [],
      layout: { padding: { left: 0, right: 12, top: p.title ? 0 : 66, bottom: 0 } },
      scales: { x: axisOptions(p.x, true), y: axisOptions(p.y, false) },
      plugins: {
        legend: { display: false },
        tooltip: { enabled: false },
        title: p.title
          ? {
              display: true, text: p.title, fullSize: false, color: INK,
              font: { family: FONT, size: 23.5, weight: "normal", lineHeight: 1.22 },
              padding: { top: p.titlePad![0], bottom: p.titlePad![1] },
            }
          : { display: false },
      },
    },
    plugins: [makeDeco(p)],
  };
}

function Panel({ p }: { p: PanelSpec }) {
  const ref = useRef<HTMLCanvasElement>(null);
  useEffect(() => {
    const c = ref.current;
    if (!c) return;
    const chart = new Chart(c, buildConfig(p));
    return () => chart.destroy();
  }, [p]);
  const [l, t, r, b] = p.box;
  const w = r - l + 120;
  const h = b - t + 144;
  return (
    <canvas
      ref={ref}
      width={w}
      height={h}
      style={{ position: "absolute", left: l - 108, top: t - 66, width: w, height: h }}
    />
  );
}

Chart.defaults.font.family = FONT;
Chart.defaults.color = INK;

export default function App() {
  return (
    <div
      style={{
        position: "absolute", left: 0, top: 0, width: 1261, height: 1067,
        overflow: "hidden", background: "#ffffff",
      }}
    >
      {PANELS.map((p) => (
        <Panel key={p.id} p={p} />
      ))}
    </div>
  );
}
